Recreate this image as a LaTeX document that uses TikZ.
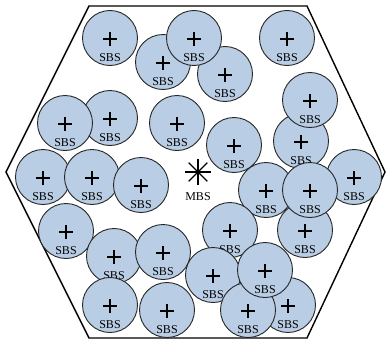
\documentclass[tikz,border=0pt]{standalone}
\usepackage{fontspec}
\setmainfont{Liberation Serif}
\usepackage{xcolor}
\usepackage{tikz}
\usetikzlibrary{positioning}

\definecolor{sbsblue}{RGB}{185,205,229}
\newcommand{\lblfont}{\fontsize{12}{14}\selectfont}

\begin{document}
\begin{tikzpicture}[
    x=1pt, y=-1pt,
    cell/.style={line width=1.4pt, line join=miter},
    sbs/.style={circle, draw=black!85, fill=sbsblue, line width=0.9pt, minimum size=55pt, inner sep=0pt,
        path picture={\draw[black, line width=1.5pt]
            ([xshift=-7pt, yshift=-1pt]path picture bounding box.center) -- ([xshift=7pt, yshift=-1pt]path picture bounding box.center)
            ([yshift=-8pt]path picture bounding box.center) -- ([yshift=6pt]path picture bounding box.center);},
        label={[font=\lblfont, yshift=-20pt]center:SBS}},
    mbs/.style={circle, minimum size=26pt, inner sep=0pt},
    spoke/.style={line width=1.3pt}
]
\useasboundingbox (0,0) rectangle (388,340);

% Hexagonal cell
\draw[cell] (89,6) -- (307,6) -- (385,172) -- (307,338) -- (89,338) -- (6,172) -- cycle;

% Row 1: top small cells
\node[sbs] (s1) at (110,38) {};
\node[sbs] (s2) at (163,62) {};
\node[sbs] (s3) at (225,74) {};
\node[sbs] (s4) at (194,38) {};
\node[sbs] (s5) at (287,38) {};

% Row 2
\node[sbs] (s6) at (301,141) {};
\node[sbs] (s7) at (310,100) {};
\node[sbs] (s8) at (110,118) {};
\node[sbs] (s9) at (65,123) {};
\node[sbs] (s10) at (177,123) {};

% Row 3: around the macro cell
\node[sbs] (s11) at (43,177) {};
\node[sbs] (s12) at (92,177) {};
\node[sbs] (s13) at (141,185) {};
\node[sbs] (s14) at (234,145) {};
\node[sbs] (s15) at (266,190) {};
\node[sbs] (s16) at (354,177) {};
\node[sbs] (s17) at (305,230) {};
\node[sbs] (s18) at (310,190) {};

% Row 4: lower left
\node[sbs] (s19) at (66,231) {};
\node[sbs] (s20) at (114,256) {};
\node[sbs] (s21) at (163,252) {};
\node[sbs] (s22) at (110,305) {};
\node[sbs] (s23) at (167,310) {};

% Row 5: lower right
\node[sbs] (s24) at (230,230) {};
\node[sbs] (s25) at (213,275) {};
\node[sbs] (s26) at (288,305) {};
\node[sbs] (s27) at (248,310) {};
\node[sbs] (s28) at (265,270) {};

% Macro base station
\node[mbs, label={[font=\lblfont, label distance=4pt]below:MBS}] (mbs) at (198,172) {};
\draw[spoke] (mbs.west) -- (mbs.east);
\draw[spoke] (mbs.north) -- (mbs.south);
\draw[spoke] (mbs.north west) -- (mbs.south east);
\draw[spoke] (mbs.north east) -- (mbs.south west);

\end{tikzpicture}
\end{document}
